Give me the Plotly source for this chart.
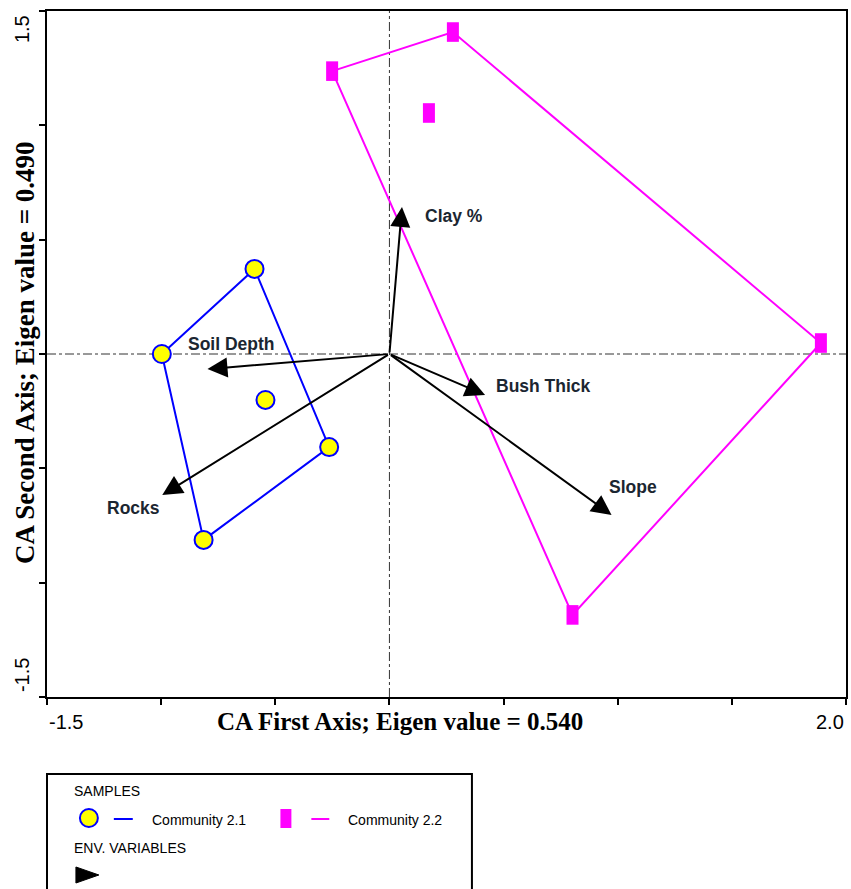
import plotly.graph_objects as go

# ---------------- data ----------------
c21_x = [-0.591, -0.997, -0.543, -0.264, -0.814]
c21_y = [0.372, 0.000, -0.201, -0.407, -0.813]
c21_hull = [1, 0, 3, 4, 1]

c22_x = [-0.251, 0.278, 0.173, 1.890, 0.802]
c22_y = [1.237, 1.408, 1.054, 0.048, -1.141]
c22_hull = [0, 1, 3, 4, 0]

env_names = ["Clay %", "Soil Depth", "Rocks", "Bush Thick", "Slope"]
env_x = [0.055, -0.797, -0.995, 0.419, 0.973]
env_y = [0.643, -0.066, -0.617, -0.179, -0.704]
lab_x = [0.147, -0.893, -1.246, 0.457, 0.955]
lab_y = [0.603, 0.044, -0.673, -0.140, -0.582]

x_range = [-1.5, 2.0]
y_range = [-1.5, 1.5]
x_ticks = [-1.5, -1.0, -0.5, 0.0, 0.5, 1.0, 1.5, 2.0]
y_ticks = [-1.5, -1.0, -0.5, 0.0, 0.5, 1.0, 1.5]
x_title = "CA First Axis; Eigen value = 0.540"
y_title = "CA Second Axis; Eigen value = 0.490"
legend_names = ["Community 2.1", "Community 2.2"]

BLUE = "#0000FF"
MAG = "#FF00FF"
YEL = "#FFFF00"
TXT = "#1B2631"

W, H = 851, 889
L, R, T, B = 47, 3, 11, 192
PW, PH = W - L - R, H - T - B


def px(x):
    return (x - L) / PW


def py(y):
    return (H - B - y) / PH


fig = go.Figure()

# hulls
fig.add_trace(go.Scatter(x=[c21_x[i] for i in c21_hull], y=[c21_y[i] for i in c21_hull],
                         mode="lines", line=dict(color=BLUE, width=2), hoverinfo="skip"))
fig.add_trace(go.Scatter(x=[c22_x[i] for i in c22_hull], y=[c22_y[i] for i in c22_hull],
                         mode="lines", line=dict(color=MAG, width=2), hoverinfo="skip"))
# points
fig.add_trace(go.Scatter(x=c21_x, y=c21_y, mode="markers",
                         marker=dict(symbol="circle", size=18, color=YEL,
                                     line=dict(color=BLUE, width=2))))
fig.add_trace(go.Scatter(x=c22_x, y=c22_y, mode="markers",
                         marker=dict(symbol="line-ns", size=14, color=MAG,
                                     line=dict(color=MAG, width=12))))

annotations = []
for nm, ex, ey, lx, ly in zip(env_names, env_x, env_y, lab_x, lab_y):
    annotations.append(dict(x=ex, y=ey, ax=0, ay=0, xref="x", yref="y", axref="x", ayref="y",
                            text="", showarrow=True, arrowhead=2, arrowsize=2.0,
                            arrowwidth=2, arrowcolor="black"))
    annotations.append(dict(x=lx, y=ly, xref="x", yref="y", text="<b>%s</b>" % nm,
                            showarrow=False, xanchor="left", yanchor="middle",
                            font=dict(family="Liberation Sans, Arial", size=17.5, color=TXT)))

# tick labels at ends
annotations.append(dict(x=x_ticks[0], y=py(722), xref="x", yref="paper", text=str(x_ticks[0]),
                        showarrow=False, xanchor="left", yanchor="middle",
                        font=dict(family="Liberation Sans, Arial", size=20, color="black")))
annotations.append(dict(x=x_ticks[-1], y=py(722), xref="x", yref="paper", text="%.1f" % x_ticks[-1],
                        showarrow=False, xanchor="right", yanchor="middle",
                        font=dict(family="Liberation Sans, Arial", size=20, color="black")))
annotations.append(dict(x=px(22), y=y_ticks[-1], xref="paper", yref="y", text=str(y_ticks[-1]),
                        showarrow=False, textangle=-90, yshift=-18, xanchor="center", yanchor="middle",
                        font=dict(family="Liberation Sans, Arial", size=20, color="black")))
annotations.append(dict(x=px(22), y=y_ticks[0], xref="paper", yref="y", text=str(y_ticks[0]),
                        showarrow=False, textangle=-90, yshift=22, xanchor="center", yanchor="middle",
                        font=dict(family="Liberation Sans, Arial", size=20, color="black")))
# axis titles
annotations.append(dict(x=px(401), y=py(722), xref="paper", yref="paper", text="<b>%s</b>" % x_title,
                        showarrow=False, xanchor="center", yanchor="middle",
                        font=dict(family="Liberation Serif, Times New Roman", size=25, color="black")))
annotations.append(dict(x=px(25), y=py(353), xref="paper", yref="paper", text="<b>%s</b>" % y_title,
                        showarrow=False, textangle=-90, xanchor="center", yanchor="middle",
                        font=dict(family="Liberation Serif, Times New Roman", size=27, color="black")))

# legend texts
lf = dict(family="Liberation Sans, Arial", size=14, color="black")
annotations.append(dict(x=px(72), y=py(791), xref="paper", yref="paper", text="SAMPLES",
                        showarrow=False, xanchor="left", yanchor="middle", font=lf))
annotations.append(dict(x=px(150), y=py(820), xref="paper", yref="paper", text=legend_names[0],
                        showarrow=False, xanchor="left", yanchor="middle", font=lf))
annotations.append(dict(x=px(347), y=py(820), xref="paper", yref="paper", text=legend_names[1],
                        showarrow=False, xanchor="left", yanchor="middle", font=lf))
annotations.append(dict(x=px(72), y=py(848), xref="paper", yref="paper", text="ENV. VARIABLES",
                        showarrow=False, xanchor="left", yanchor="middle", font=lf))

shapes = [
    dict(type="line", xref="x", yref="paper", x0=0, x1=0, y0=0, y1=1,
         line=dict(color="#333", width=1, dash="dashdot"), layer="below"),
    dict(type="line", xref="paper", yref="y", x0=0, x1=1, y0=0, y1=0,
         line=dict(color="#333", width=1, dash="dashdot"), layer="below"),
    # legend box
    dict(type="rect", xref="paper", yref="paper", x0=px(47), x1=px(473), y0=py(774), y1=py(895),
         line=dict(color="black", width=2), fillcolor="rgba(0,0,0,0)"),
    # legend symbols
    dict(type="circle", xref="paper", yref="paper", x0=px(80), x1=px(98), y0=py(809), y1=py(827),
         line=dict(color=BLUE, width=2), fillcolor=YEL),
    dict(type="line", xref="paper", yref="paper", x0=px(114), x1=px(133), y0=py(819), y1=py(819),
         line=dict(color=BLUE, width=2)),
    dict(type="rect", xref="paper", yref="paper", x0=px(281), x1=px(292), y0=py(809), y1=py(828),
         line=dict(color=MAG, width=0), fillcolor=MAG),
    dict(type="line", xref="paper", yref="paper", x0=px(312), x1=px(330), y0=py(819), y1=py(819),
         line=dict(color=MAG, width=2)),
    dict(type="path", xref="paper", yref="paper",
         path="M %f %f L %f %f L %f %f Z" % (px(76), py(867), px(76), py(883), px(99), py(875)),
         fillcolor="black", line=dict(color="black", width=1)),
]

fig.update_layout(
    width=W, height=H, autosize=False,
    margin=dict(l=L, r=R, t=T, b=B, pad=0),
    paper_bgcolor="white", plot_bgcolor="white",
    showlegend=False,
    annotations=annotations, shapes=shapes,
    xaxis=dict(range=x_range, tickvals=x_ticks, showticklabels=False, ticks="outside",
               ticklen=6, tickwidth=2, tickcolor="black", showline=True, linecolor="black",
               linewidth=2, mirror=True, showgrid=False, zeroline=False),
    yaxis=dict(range=y_range, tickvals=y_ticks, showticklabels=False, ticks="outside",
               ticklen=6, tickwidth=2, tickcolor="black", showline=True, linecolor="black",
               linewidth=2, mirror=True, showgrid=False, zeroline=False),
)

fig.write_html("out.html")
